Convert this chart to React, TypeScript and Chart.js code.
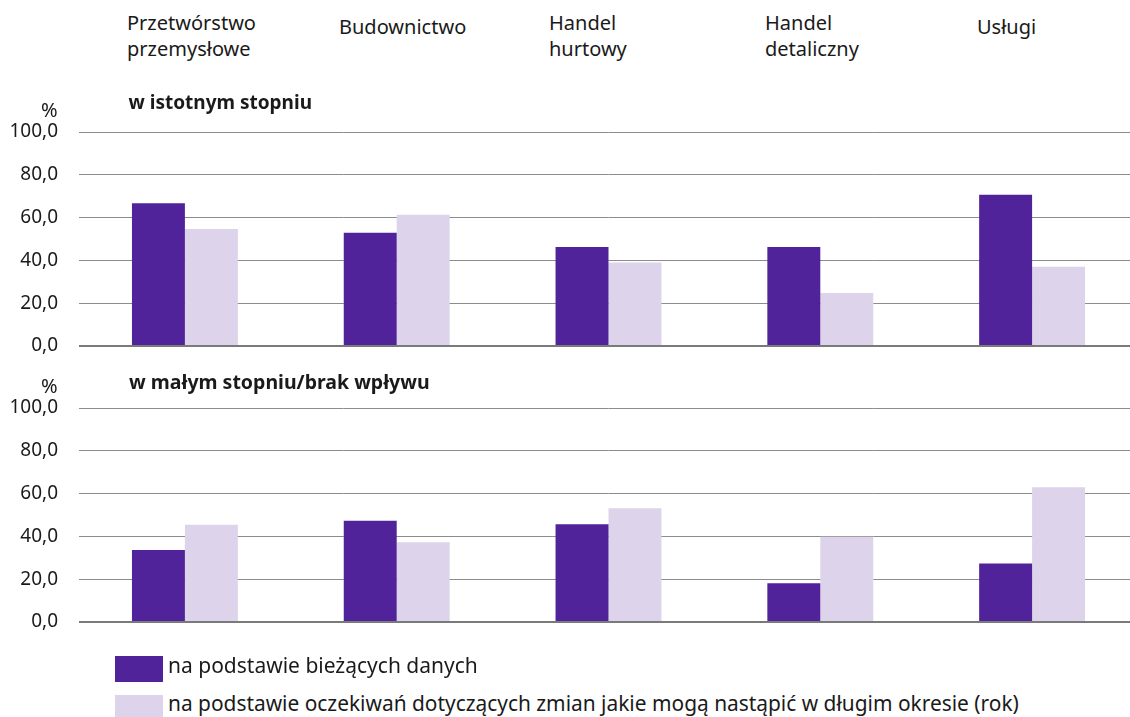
import React, { useEffect, useRef } from "react";
import { Chart, registerables } from "chart.js";

Chart.register(...registerables);

const categories = ["Przetwórstwo przemysłowe", "Budownictwo", "Handel hurtowy", "Handel detaliczny", "Usługi"];
const categoryLines = [["Przetwórstwo", "przemysłowe"], ["Budownictwo"], ["Handel", "hurtowy"], ["Handel", "detaliczny"], ["Usługi"]];
const seriesNames = [
  "na podstawie bieżących danych",
  "na podstawie oczekiwań dotyczących zmian jakie mogą nastąpić w długim okresie (rok)",
];
const panelTitles = ["w istotnym stopniu", "w małym stopniu/brak wpływu"];

const topCurrent = [66.7, 52.9, 46.3, 46.3, 70.7];
const topExpected = [54.7, 61.3, 39.0, 24.8, 37.0];
const bottomCurrent = [33.6, 47.3, 45.7, 18.1, 27.3];
const bottomExpected = [45.4, 37.3, 53.1, 39.8, 63.0];

const yTicks = [0, 20, 40, 60, 80, 100];

const DARK = "#51239A";
const LIGHT = "#DDD3EA";
const FONT = "'Noto Sans', 'DejaVu Sans', sans-serif";

const AREA_H = 214;

function Panel({ areaTop, current, expected }: { areaTop: number; current: number[]; expected: number[] }) {
  const ref = useRef<HTMLCanvasElement | null>(null);
  const PAD = 30;
  const H = AREA_H + 2 * PAD;
  useEffect(() => {
    if (!ref.current) return;
    const chart = new Chart(ref.current, {
      type: "bar",
      data: {
        labels: categories,
        datasets: [
          { label: seriesNames[0], data: current, backgroundColor: DARK, borderWidth: 0 },
          { label: seriesNames[1], data: expected, backgroundColor: LIGHT, borderWidth: 0 },
        ],
      },
      options: {
        animation: false,
        responsive: false,
        maintainAspectRatio: false,
        devicePixelRatio: 1,
        layout: { padding: { top: PAD, bottom: PAD, left: 0, right: 2 } },
        datasets: { bar: { categoryPercentage: 0.5, barPercentage: 1.0 } },
        plugins: { legend: { display: false }, tooltip: { enabled: false }, title: { display: false } },
        scales: {
          x: { display: false, offset: true, grid: { display: false } },
          y: {
            min: 0,
            max: 100,
            afterBuildTicks: (scale: any) => {
              scale.ticks = yTicks.map((v) => ({ value: v }));
            },
            afterFit: (scale: any) => {
              scale.width = 79;
              scale.paddingTop = 0;
              scale.paddingBottom = 0;
            },
            border: { display: false },
            grid: {
              drawTicks: false,
              color: (ctx: any) => (ctx.tick && ctx.tick.value === 0 ? "#7a7a7a" : "#8c8c8c"),
              lineWidth: (ctx: any) => (ctx.tick && ctx.tick.value === 0 ? 2 : 1),
            },
            ticks: {
              padding: 21,
              color: "#1a1a1a",
              font: { family: FONT, size: 19 },
              callback: (v: any) => Number(v).toFixed(1).replace(".", ","),
            },
          },
        },
      },
    });
    return () => chart.destroy();
  }, [current, expected]);
  return (
    <canvas
      ref={ref}
      width={1140}
      height={H}
      style={{ position: "absolute", left: 0, top: areaTop - PAD, width: 1140, height: H }}
    />
  );
}

function T({ x, baseline, size = 20, bold = false, right = false, children }: any) {
  const style: any = {
    position: "absolute",
    top: baseline - 0.888 * size,
    fontSize: size,
    lineHeight: `${size}px`,
    fontFamily: FONT,
    fontWeight: bold ? 700 : 400,
    color: "#1a1a1a",
    whiteSpace: "nowrap",
  };
  if (right) style.right = 1130 - x;
  else style.left = x;
  return <div style={style}>{children}</div>;
}

const labelX = [127, 339, 549, 765, 977];

export default function App() {
  return (
    <div
      style={{
        position: "absolute",
        left: 0,
        top: 0,
        width: 1130,
        height: 717,
        overflow: "hidden",
        background: "#fff",
        fontFamily: FONT,
      }}
    >
      {categoryLines.map((lines, i) =>
        lines.length === 2 ? (
          <React.Fragment key={i}>
            <T x={labelX[i]} baseline={30.5}>{lines[0]}</T>
            <T x={labelX[i]} baseline={56.5}>{lines[1]}</T>
          </React.Fragment>
        ) : (
          <T key={i} x={labelX[i]} baseline={35}>{lines[0]}</T>
        )
      )}

      <Panel areaTop={132} current={topCurrent} expected={topExpected} />
      <Panel areaTop={408} current={bottomCurrent} expected={bottomExpected} />

      <T x={57.5} baseline={118} right>%</T>
      <T x={128.5} baseline={109.5} bold size={19}>{panelTitles[0]}</T>

      <T x={57.5} baseline={394} right>%</T>
      <T x={129} baseline={389} bold size={19.5}>{panelTitles[1]}</T>

      <div style={{ position: "absolute", left: 115, top: 656, width: 48, height: 26, background: DARK }} />
      <T x={168} baseline={674} size={21}>{seriesNames[0]}</T>
      <div style={{ position: "absolute", left: 115, top: 695, width: 48, height: 26, background: LIGHT }} />
      <T x={168} baseline={712} size={20.9}>{seriesNames[1]}</T>
    </div>
  );
}
